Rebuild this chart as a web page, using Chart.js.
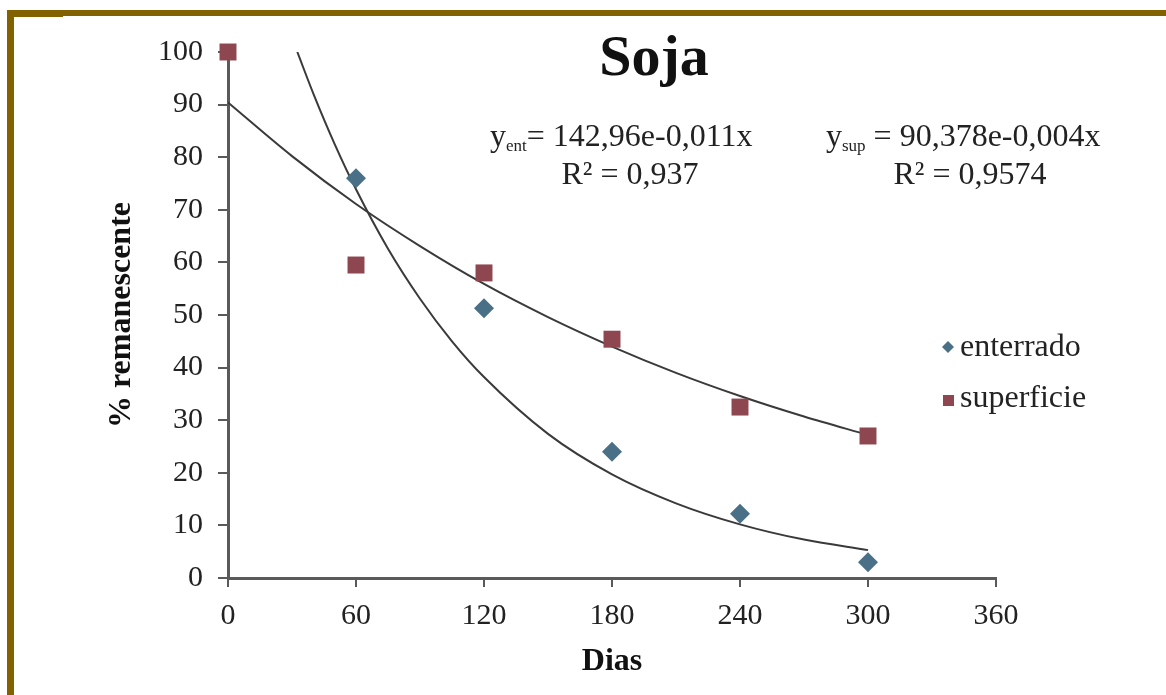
<!DOCTYPE html>
<html>
<head>
<meta charset="utf-8">
<title>Soja</title>
<script src="https://cdn.jsdelivr.net/npm/chart.js"></script>
<style>
    body { margin: 0; background: #fff; }
    canvas { display: block; }
</style>
</head>
<body>
<canvas id="sojaChart" width="1166" height="695"></canvas>
<script>
// pontos medidos
var diasEnterrado = [60, 120, 180, 240, 300];
var enterrado = [76, 51.3, 24, 12.2, 3];
var diasSuperficie = [0, 60, 120, 180, 240, 300];
var superficie = [100, 59.5, 58, 45.4, 32.5, 27];

// linhas de tendencia
var tendEntX = [32.5, 40, 50, 60, 75, 90, 105, 120, 150, 180, 210, 240, 270, 300];
var tendEntY = [100, 92.1, 82.5, 73.9, 62.6, 53.1, 45.0, 38.2, 27.4, 19.7, 14.2, 10.2, 7.3, 5.3];
var tendSupX = [0, 30, 60, 90, 120, 150, 180, 210, 240, 270, 300];
var tendSupY = [90.4, 80.2, 71.1, 63.1, 55.9, 49.6, 44.0, 39.0, 34.6, 30.7, 27.2];

var xTicks = [0, 60, 120, 180, 240, 300, 360];
var yTicks = [0, 10, 20, 30, 40, 50, 60, 70, 80, 90, 100];

var corEnt = '#4a7088';
var corSup = '#8e4750';
var serif = '"Liberation Serif", "Times New Roman", serif';

function pares(xs, ys) {
    return xs.map(function (x, i) { return { x: x, y: ys[i] }; });
}

// moldura, titulo, equacoes e legenda
var textos = {
    id: 'textos',
    beforeDraw: function (chart) {
        var ctx = chart.ctx;
        ctx.save();
        ctx.fillStyle = '#fff';
        ctx.fillRect(0, 0, chart.width, chart.height);
        ctx.fillStyle = '#826100';
        ctx.fillRect(8, 10, 1158, 6);
        ctx.fillRect(7, 10, 56, 7);
        ctx.fillRect(7, 10, 7, 685);
        ctx.restore();
    },
    afterDraw: function (chart) {
        var ctx = chart.ctx;
        ctx.save();
        ctx.fillStyle = '#111';
        ctx.textBaseline = 'alphabetic';

        ctx.font = 'bold 58px ' + serif;
        ctx.textAlign = 'center';
        ctx.fillText('Soja', 654, 75);

        function eq(x, y, sub, resto) {
            ctx.textAlign = 'left';
            ctx.font = '32px ' + serif;
            ctx.fillText('y', x, y);
            x += ctx.measureText('y').width;
            ctx.font = '17px ' + serif;
            ctx.fillText(sub, x, y + 5);
            x += ctx.measureText(sub).width;
            ctx.font = '32px ' + serif;
            ctx.fillText(resto, x, y);
        }
        ctx.fillStyle = '#222';
        eq(490, 146, 'ent', '= 142,96e-0,011x');
        eq(826, 146, 'sup', ' = 90,378e-0,004x');
        ctx.textAlign = 'center';
        ctx.font = '32px ' + serif;
        ctx.fillText('R\u00b2 = 0,937', 630, 184);
        ctx.fillText('R\u00b2 = 0,9574', 970, 184);

        // legenda
        ctx.fillStyle = corEnt;
        ctx.beginPath();
        ctx.moveTo(948, 341);
        ctx.lineTo(954, 347);
        ctx.lineTo(948, 353);
        ctx.lineTo(942, 347);
        ctx.closePath();
        ctx.fill();
        ctx.fillStyle = corSup;
        ctx.fillRect(943, 395, 11, 11);
        ctx.fillStyle = '#222';
        ctx.textAlign = 'left';
        ctx.font = '32px ' + serif;
        ctx.fillText('enterrado', 960, 356);
        ctx.fillText('superficie', 960, 407);
        ctx.restore();
    }
};

var ctxSoja = document.getElementById('sojaChart').getContext('2d');
var sojaChart = new Chart(ctxSoja, {
    type: 'scatter',
    data: {
        datasets: [{
            label: 'enterrado',
            data: pares(diasEnterrado, enterrado),
            pointStyle: 'rectRot',
            pointRadius: 10,
            backgroundColor: corEnt,
            borderColor: corEnt,
            borderWidth: 0,
            clip: false
        }, {
            label: 'superficie',
            data: pares(diasSuperficie, superficie),
            pointStyle: 'rect',
            pointRadius: 12,
            backgroundColor: corSup,
            borderColor: corSup,
            borderWidth: 0,
            clip: false
        }, {
            label: 'tendencia enterrado',
            data: pares(tendEntX, tendEntY),
            showLine: true,
            pointRadius: 0,
            borderColor: '#3a3a3a',
            borderWidth: 2,
            cubicInterpolationMode: 'monotone'
        }, {
            label: 'tendencia superficie',
            data: pares(tendSupX, tendSupY),
            showLine: true,
            pointRadius: 0,
            borderColor: '#3a3a3a',
            borderWidth: 2,
            cubicInterpolationMode: 'monotone'
        }]
    },
    options: {
        responsive: false,
        animation: false,
        layout: {
            padding: { top: 52, left: 14, right: 170, bottom: 0 }
        },
        plugins: {
            legend: { display: false },
            title: { display: false },
            tooltip: { enabled: false }
        },
        scales: {
            x: {
                type: 'linear',
                min: 0,
                max: 360,
                afterBuildTicks: function (scale) {
                    scale.ticks = xTicks.map(function (v) { return { value: v }; });
                },
                afterFit: function (scale) { scale.height = 117; },
                border: { color: '#5a5a5a', width: 3 },
                grid: {
                    drawOnChartArea: false,
                    drawTicks: true,
                    tickLength: 9,
                    color: '#5a5a5a',
                    lineWidth: 2
                },
                ticks: {
                    padding: 11,
                    color: '#222',
                    font: { family: serif, size: 30 }
                },
                title: {
                    display: true,
                    text: 'Dias',
                    color: '#111',
                    padding: { top: 0, bottom: 14 },
                    font: { family: serif, size: 32, weight: 'bold' }
                }
            },
            y: {
                type: 'linear',
                min: 0,
                max: 100,
                afterBuildTicks: function (scale) {
                    scale.ticks = yTicks.map(function (v) { return { value: v }; });
                },
                afterFit: function (scale) { scale.width = 214; },
                border: { color: '#5a5a5a', width: 3 },
                grid: {
                    drawOnChartArea: false,
                    drawTicks: true,
                    tickLength: 10,
                    color: '#5a5a5a',
                    lineWidth: 2
                },
                ticks: {
                    padding: 15,
                    color: '#222',
                    font: { family: serif, size: 30 }
                },
                title: {
                    display: true,
                    text: '% remanescente',
                    color: '#111',
                    padding: { top: 89, bottom: 0 },
                    font: { family: serif, size: 32, weight: 'bold' }
                }
            }
        }
    },
    plugins: [textos]
});
</script>
</body>
</html>
